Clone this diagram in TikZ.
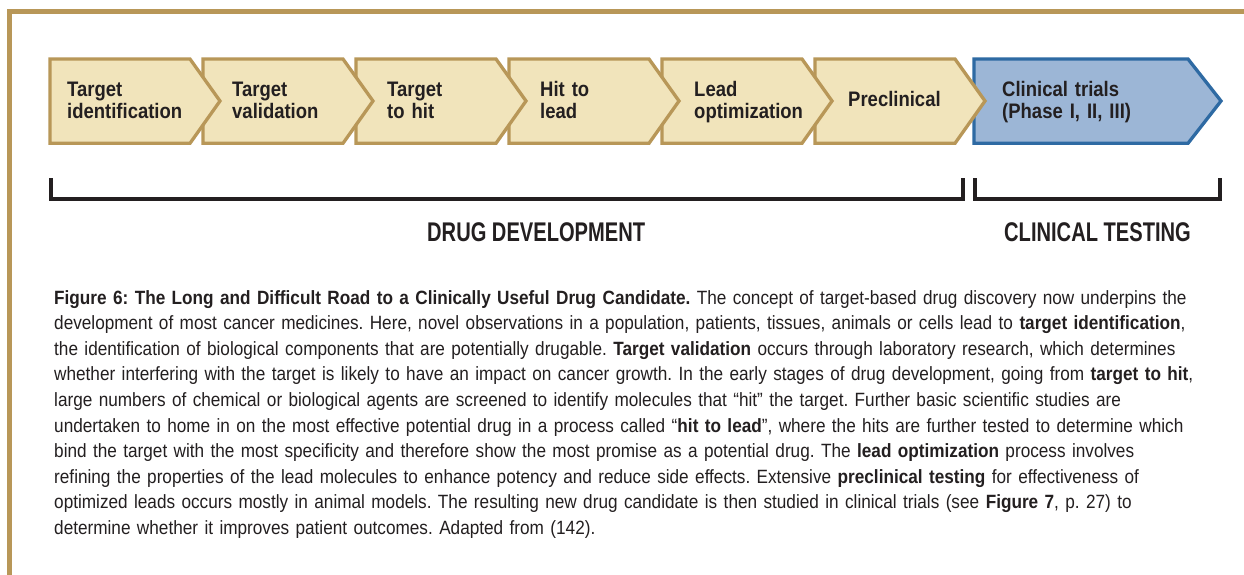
\documentclass[tikz,border=0pt]{standalone}
\usepackage{fontspec}
\setmainfont{Liberation Sans}
\newfontfamily\boxfont[FakeStretch=0.88]{Liberation Sans}
\newfontfamily\headfont[FakeStretch=0.745]{Liberation Sans}
\newfontfamily\capfont[FakeStretch=0.895]{Liberation Sans}
\definecolor{gold}{HTML}{B89758}
\definecolor{cream}{HTML}{F1E4BB}
\definecolor{bluefill}{HTML}{9CB6D6}
\definecolor{bluedraw}{HTML}{2E6AA3}
\definecolor{ink}{HTML}{231F20}
\begin{document}
\frenchspacing
\begin{tikzpicture}[x=1pt,y=-1pt,
  frameline/.style={draw=gold,line width=4.5pt},
  goldbox/.style={fill=cream,draw=gold,line width=3.3pt,line join=miter},
  bluebox/.style={fill=bluefill,draw=bluedraw,line width=3.3pt,line join=miter},
  boxtxt/.style={anchor=base west,inner sep=0pt,text width=200pt,align=left,text=ink,
    font=\boxfont\bfseries\fontsize{21}{22.3}\selectfont},
  bracket/.style={draw=ink,line width=4pt,line cap=rect,line join=miter},
  headtxt/.style={anchor=base west,inner sep=0pt,text=ink,font=\headfont\bfseries\fontsize{27}{30}\selectfont},
  captxt/.style={anchor=base west,inner sep=0pt,text width=1200pt,align=left,text=ink,
    font=\capfont\fontsize{19.2}{25.6}\selectfont}]
\useasboundingbox (0,0) rectangle (1244,575);
\fill[white] (0,0) rectangle (1244,575);
% frame
\draw[frameline] (9.5,575) -- (9.5,11.3) -- (1244,11.3);
% boxes, drawn right to left
\path[bluebox] (974,59) -- (1188,59) -- (1221,101) -- (1188,143.3) -- (974,143.3) -- cycle;
\path[goldbox] (815,59) -- (955,59) -- (985,101) -- (955,143.3) -- (815,143.3) -- cycle;
\path[goldbox] (662,59) -- (802,59) -- (832,101) -- (802,143.3) -- (662,143.3) -- cycle;
\path[goldbox] (509,59) -- (649,59) -- (679,101) -- (649,143.3) -- (509,143.3) -- cycle;
\path[goldbox] (356,59) -- (496,59) -- (526,101) -- (496,143.3) -- (356,143.3) -- cycle;
\path[goldbox] (203,59) -- (343,59) -- (373,101) -- (343,143.3) -- (203,143.3) -- cycle;
\path[goldbox] (50,59) -- (190,59) -- (220,101) -- (190,143.3) -- (50,143.3) -- cycle;
% box texts
\node[boxtxt] (t1) at (67,96.5) {Target\\identification};
\node[boxtxt] (t2) at (232,96.5) {Target\\validation};
\node[boxtxt] (t3) at (387,96.5) {Target\\to hit};
\node[boxtxt] (t4) at (540,96.5) {Hit to\\lead};
\node[boxtxt] (t5) at (694,96.5) {Lead\\optimization};
\node[boxtxt] (t6) at (848,107) {Preclinical};
\node[boxtxt] (t7) at (1002,96.5) {Clinical trials\\(Phase I, II, III)};
% brackets
\draw[bracket] (50.5,180) -- (50.5,199) -- (962.5,199) -- (962.5,180);
\draw[bracket] (975,180) -- (975,199) -- (1220,199) -- (1220,180);
\node[headtxt] (dd) at (427,241.5) {DRUG DEVELOPMENT};
\node[headtxt] (ct) at (1004,241.5) {CLINICAL TESTING};
% caption
\node[captxt] (cap) at (54,304) {\textbf{Figure 6: The Long and Difficult Road to a Clinically Useful Drug Candidate.} The concept of target-based drug discovery now underpins the\\
development of most cancer medicines. Here, novel observations in a population, patients, tissues, animals or cells lead to \textbf{target identification},\\
the identification of biological components that are potentially drugable. \textbf{Target validation} occurs through laboratory research, which determines\\
whether interfering with the target is likely to have an impact on cancer growth. In the early stages of drug development, going from \textbf{target to hit},\\
large numbers of chemical or biological agents are screened to identify molecules that “hit” the target. Further basic scientific studies are\\
undertaken to home in on the most effective potential drug in a process called “\textbf{hit to lead}”, where the hits are further tested to determine which\\
bind the target with the most specificity and therefore show the most promise as a potential drug. The \textbf{lead optimization} process involves\\
refining the properties of the lead molecules to enhance potency and reduce side effects. Extensive \textbf{preclinical testing} for effectiveness of\\
optimized leads occurs mostly in animal models. The resulting new drug candidate is then studied in clinical trials (see \textbf{Figure 7}, p. 27) to\\
determine whether it improves patient outcomes. Adapted from (142).};
\end{tikzpicture}
\end{document}
